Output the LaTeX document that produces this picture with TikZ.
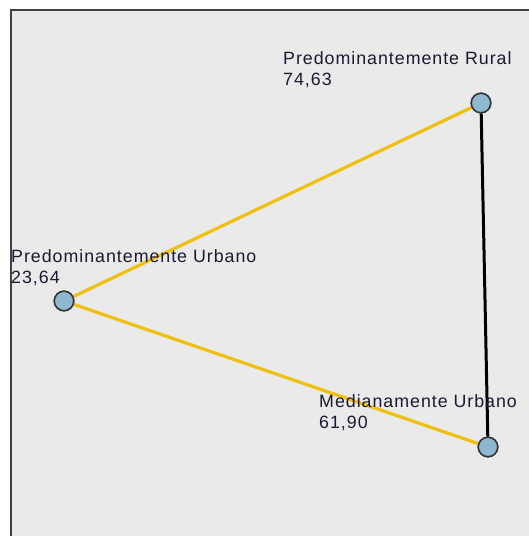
\documentclass[tikz,border=0pt]{standalone}
\usepackage{fontspec}
\newfontfamily\labfont[LetterSpace=5.5]{Liberation Sans}
\definecolor{bgray}{HTML}{EAEAEA}
\definecolor{frameC}{HTML}{404040}
\definecolor{edgeY}{HTML}{F0C010}
\definecolor{nodeB}{HTML}{8DB8D0}
\definecolor{txtC}{HTML}{1A1A30}
\tikzset{
  pt/.style={circle,draw=black!80,fill=nodeB,line width=1.5pt,minimum size=19.5pt,inner sep=0pt},
  lbl/.style={anchor=north west,align=left,inner sep=0pt,text=txtC,font=\labfont\fontsize{17.8}{20.5}\selectfont},
  yedge/.style={draw=edgeY,line width=3.2pt},
  kedge/.style={draw=black,line width=3pt}
}
\begin{document}
\begin{tikzpicture}[x=1pt,y=-1pt]
\useasboundingbox (0,0) rectangle (529,536);
\fill[white] (0,0) rectangle (529,536);
\fill[bgray] (11,10) rectangle (529,536);
\draw[frameC,line width=2pt] (11,540) -- (11,10) -- (535,10);
\node[pt] (pr) at (481,103) {};
\node[pt] (pu) at (64,301) {};
\node[pt] (mu) at (488,447) {};
\draw[yedge] (pu) -- (pr);
\draw[yedge] (pu) -- (mu);
\draw[kedge] (pr) -- (mu);
\node[pt] at (pr) {};
\node[pt] at (pu) {};
\node[pt] at (mu) {};
\node[lbl] (tpr) at (283,51.5) {Predominantemente Rural\\74,63};
\node[lbl] (tpu) at (11,249.5) {Predominantemente Urbano\\23,64};
\node[lbl] (tmu) at (319,394.5) {Medianamente Urbano\\61,90};
\end{tikzpicture}
\end{document}
